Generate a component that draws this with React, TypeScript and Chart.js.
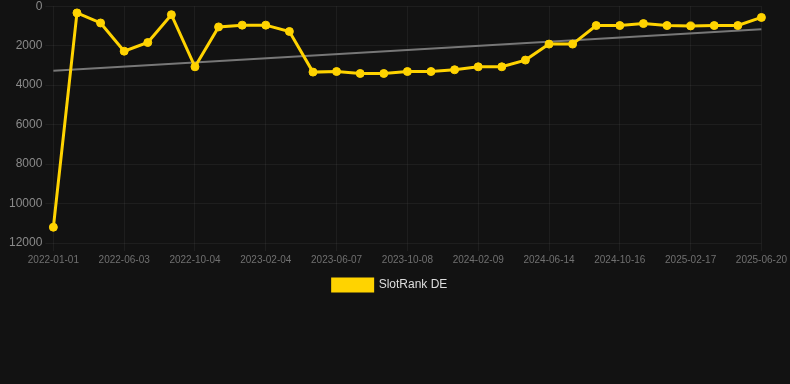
import React, { useEffect, useRef } from "react";
import { Chart, registerables } from "chart.js";

Chart.register(...registerables);

const labels: string[] = [
  "2022-01-01", "2022-02-21", "2022-04-13", "2022-06-03", "2022-07-14", "2022-08-24",
  "2022-10-04", "2022-11-14", "2022-12-25", "2023-02-04", "2023-03-17", "2023-04-27",
  "2023-06-07", "2023-07-18", "2023-08-28", "2023-10-08", "2023-11-18", "2023-12-29",
  "2024-02-09", "2024-03-21", "2024-05-03", "2024-06-14", "2024-07-25", "2024-09-05",
  "2024-10-16", "2024-11-26", "2025-01-07", "2025-02-17", "2025-03-30", "2025-05-10",
  "2025-06-20",
];

const slotRank: number[] = [
  11200, 340, 850, 2280, 1840, 430,
  3070, 1050, 960, 960, 1280, 3340,
  3310, 3410, 3410, 3310, 3310, 3220,
  3070, 3070, 2730, 1920, 1920, 980,
  980, 880, 980, 1000, 980, 980,
  570,
];

const trendStart = 3275;
const trendEnd = 1165;

const yTicks: number[] = [0, 2000, 4000, 6000, 8000, 10000, 12000];

const YELLOW = "#ffd300";
const BG = "#121212";
const FONT = "Liberation Sans, Arial, sans-serif";
const GRID = "rgba(255,255,255,0.05)";

const legendShift = {
  id: "legendShift",
  afterLayout(chart: any) {
    const l = chart.legend;
    if (l) {
      l.left -= 8;
      l.right -= 8;
    }
  },
};

export default function App() {
  const ref = useRef<HTMLCanvasElement | null>(null);

  useEffect(() => {
    document.body.style.margin = "0";
    document.body.style.background = BG;
    const trend: (number | null)[] = labels.map((_, i) =>
      i === 0 ? trendStart : i === labels.length - 1 ? trendEnd : null
    );
    const chart = new Chart(ref.current!, {
      type: "line",
      data: {
        labels,
        datasets: [
          {
            label: "SlotRank DE",
            data: slotRank,
            borderColor: YELLOW,
            backgroundColor: YELLOW,
            borderWidth: 3,
            pointRadius: 4,
            pointBorderWidth: 1,
            pointHoverRadius: 4,
            pointBackgroundColor: YELLOW,
            pointBorderColor: YELLOW,
            tension: 0,
          },
          {
            label: "trend",
            data: trend,
            borderColor: "#777777",
            backgroundColor: "#777777",
            borderWidth: 2,
            pointRadius: 0,
            spanGaps: true,
          },
        ],
      },
      plugins: [legendShift],
      options: {
        animation: false,
        responsive: false,
        maintainAspectRatio: false,
        layout: { padding: { left: 6, right: 0, top: 0, bottom: 0 } },
        plugins: {
          legend: {
            position: "bottom",
            labels: {
              color: "#dddddd",
              font: { family: FONT, size: 12 },
              boxWidth: 40,
              boxHeight: 12,
              padding: 10,
              filter: (item) => item.text !== "trend",
            },
          },
          tooltip: { enabled: false },
        },
        scales: {
          x: {
            grid: { color: GRID, tickLength: 8 },
            border: { display: false },
            ticks: {
              autoSkip: true,
              maxRotation: 0,
              color: "#707070",
              padding: 3,
              font: { family: FONT, size: 10 },
            },
          },
          y: {
            reverse: true,
            min: 0,
            max: 12000,
            afterBuildTicks: (axis) => {
              axis.ticks = yTicks.map((v) => ({ value: v }));
            },
            grid: { color: GRID, tickLength: 8 },
            border: { display: false },
            ticks: {
              color: "#8a8a8a",
              padding: 3,
              font: { family: FONT, size: 12 },
              callback: (v) => String(v),
            },
          },
        },
      },
    });
    return () => chart.destroy();
  }, []);

  return (
    <div style={{ width: 790, height: 384, background: BG, overflow: "hidden", position: "relative" }}>
      <canvas ref={ref} width={790} height={305} style={{ position: "absolute", left: 0, top: -4 }} />
    </div>
  );
}
